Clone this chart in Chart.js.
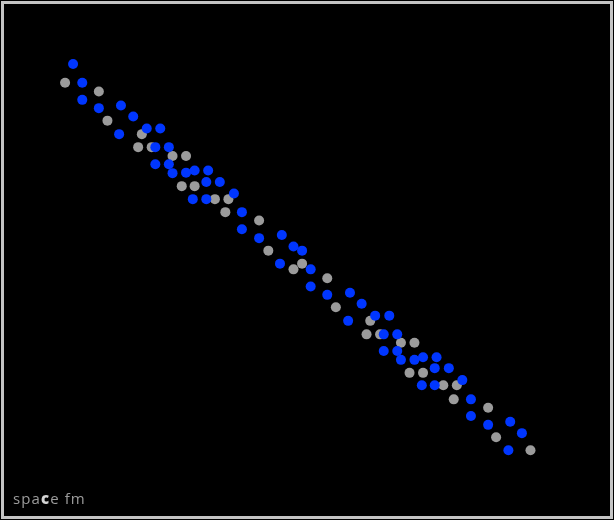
<!DOCTYPE html>
<html>
<head>
<meta charset="utf-8">
<script src="https://cdn.jsdelivr.net/npm/chart.js@4"></script>
<style>
  html, body { margin: 0; padding: 0; background: #3a3a3a; }
  #wrap { position: absolute; left: 0; top: 0; width: 614px; height: 520px; background: #000; }
  #frame { position: absolute; left: 1px; top: 1px; width: 606px; height: 512px; border: 3px solid #c4c4c4; pointer-events: none; }
  #logo { position: absolute; left: 13px; top: 488px; font-family: "Open Sans", "DejaVu Sans", sans-serif; font-size: 15px; color: #9c9c9c; letter-spacing: 1.1px; }
  #logo b { color: #d4d4d4; font-weight: 800; }
</style>
</head>
<body>
<div id="wrap">
  <canvas id="c"></canvas>
  <div id="frame"></div>
  <div id="logo">spa<b>c</b>e fm</div>
</div>
<script>
const blueX = [11.9,13.4,13.4,16.1,19.7,21.7,19.4,23.9,26.1,25.3,27.5,25.3,27.5,28.1,30.3,31.7,33.9,33.6,35.8,31.4,33.6,38.1,39.4,39.4,42.2,45.9,47.8,49.2,45.6,50.6,50.6,53.3,57.0,58.9,56.7,61.1,63.4,62.5,64.7,62.5,64.7,65.3,67.5,68.9,71.1,70.8,73.1,68.7,70.8,75.3,76.7,76.7,79.5,83.1,85.0,82.8];
const blueY = [87.7,84.1,80.8,79.2,79.7,77.6,74.2,75.3,75.3,71.7,71.7,68.4,68.4,66.7,66.8,67.2,67.2,65.0,65.0,61.7,61.7,62.8,59.2,55.9,54.2,54.8,52.6,51.8,49.3,48.2,44.9,43.3,43.7,41.6,38.3,39.3,39.3,35.7,35.7,32.5,32.5,30.8,30.8,31.3,31.3,29.2,29.2,25.9,25.9,26.9,23.2,20.0,18.3,18.9,16.7,13.4];
const grayX = [10.6,16.1,17.5,23.1,22.5,24.7,28.1,30.3,29.6,31.7,35.0,37.2,36.7,42.2,43.7,47.8,49.2,53.3,54.7,60.3,59.7,61.9,65.3,67.5,66.7,68.9,72.2,74.4,73.9,79.5,80.8,86.4];
const grayY = [84.1,82.4,76.8,74.2,71.7,71.7,70.0,70.0,64.2,64.2,61.7,61.7,59.2,57.6,51.8,48.2,49.3,46.5,40.9,38.3,35.7,35.7,34.1,34.1,28.3,28.3,25.9,25.9,23.2,21.6,15.9,13.4];

const toPts = (xs, ys) => xs.map((x, i) => ({ x: x, y: ys[i] }));

new Chart(document.getElementById('c'), {
  type: 'scatter',
  data: {
    datasets: [
      { label: 'blue', data: toPts(blueX, blueY), backgroundColor: '#0036ff', pointRadius: 5, pointBorderWidth: 0, pointHoverRadius: 5 },
      { label: 'gray', data: toPts(grayX, grayY), backgroundColor: '#9b9b9b', pointRadius: 5, pointBorderWidth: 0, pointHoverRadius: 5 }
    ]
  },
  options: {
    responsive: true,
    maintainAspectRatio: false,
    animation: false,
    layout: { padding: 0, autoPadding: false },
    plugins: { legend: { display: false }, tooltip: { enabled: false } },
    scales: {
      x: { type: 'linear', min: 0, max: 100, display: false },
      y: { type: 'linear', min: 0, max: 100, display: false }
    }
  }
});
</script>
</body>
</html>
